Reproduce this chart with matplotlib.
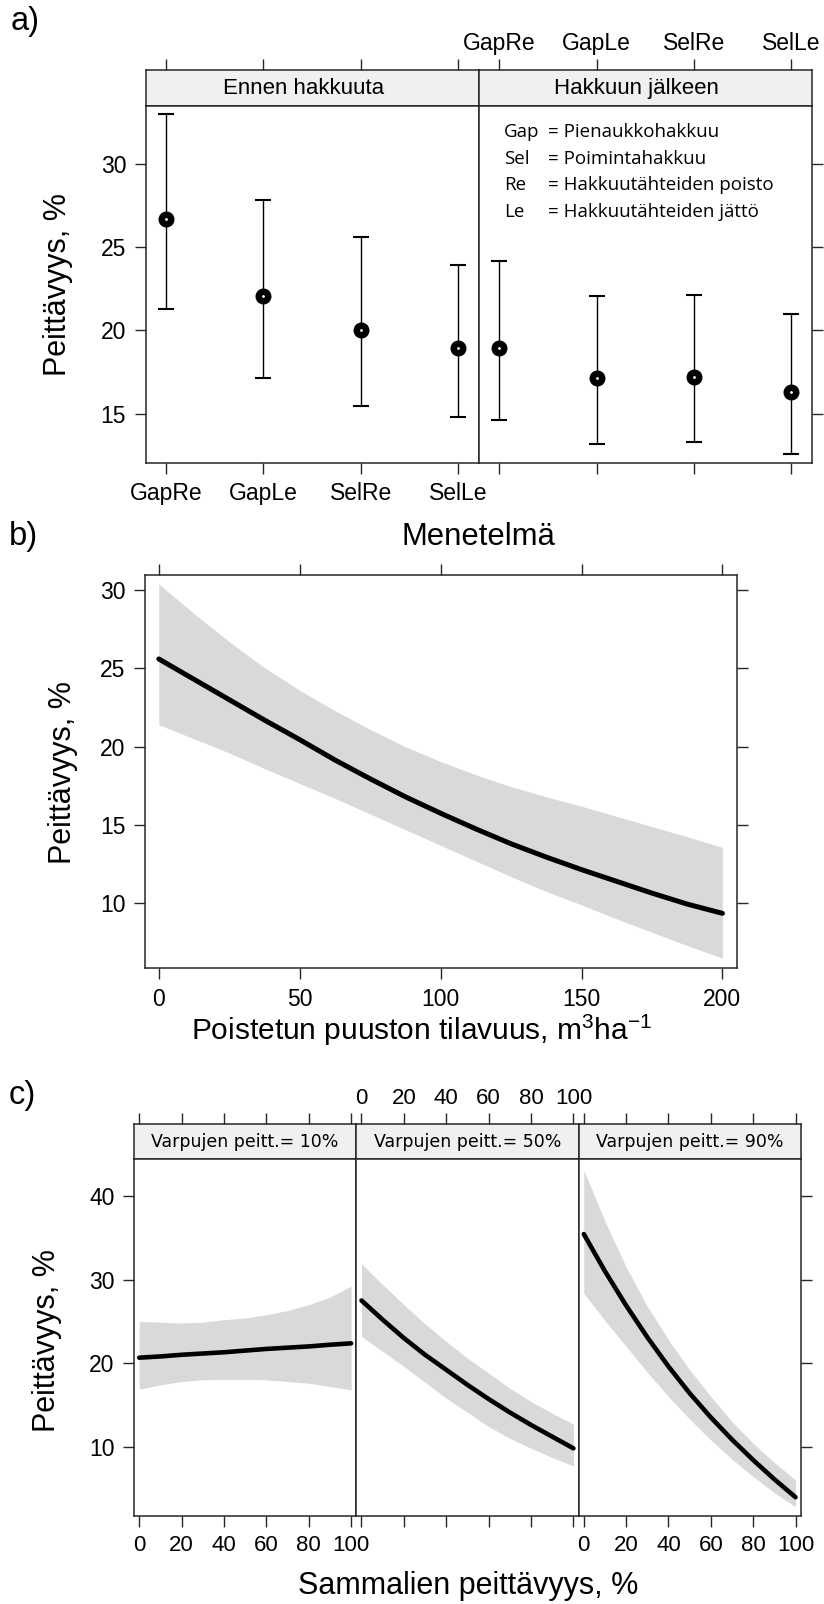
import numpy as np
import matplotlib.pyplot as plt

plt.rcParams['font.family'] = ['Liberation Sans', 'DejaVu Sans']
plt.rcParams['mathtext.fontset'] = 'custom'
plt.rcParams['mathtext.rm'] = 'Liberation Sans'
plt.rcParams['mathtext.it'] = 'Liberation Sans'

# a) keskiarvot ja luottamusvälit
methods = ["GapRe", "GapLe", "SelRe", "SelLe"]
before_mean = [26.7, 22.05, 20.05, 18.93]
before_lo = [21.3, 17.17, 15.48, 14.81]
before_hi = [33.0, 27.87, 25.63, 23.94]
after_mean = [18.93, 17.13, 17.23, 16.33]
after_lo = [14.64, 13.2, 13.28, 12.6]
after_hi = [24.17, 22.06, 22.14, 21.0]
a_strips = ["Ennen hakkuuta", "Hakkuun jälkeen"]
legend_abbr = ["Gap", "Sel", "Re", "Le"]
legend_text = ["Pienaukkohakkuu", "Poimintahakkuu",
               "Hakkuutähteiden poisto", "Hakkuutähteiden jättö"]

# b) poistetun puuston tilavuus
b_x = [0, 12.5, 25, 37.5, 50, 62.5, 75, 87.5, 100, 112.5, 125, 137.5,
       150, 162.5, 175, 187.5, 200]
b_fit = [25.6, 24.3, 23.0, 21.7, 20.45, 19.15, 17.95, 16.8, 15.75, 14.75,
         13.8, 12.95, 12.15, 11.4, 10.65, 9.95, 9.36]
b_upper = [30.38, 28.5, 26.7, 25.05, 23.6, 22.3, 21.1, 20.0, 19.05, 18.2,
           17.45, 16.8, 16.2, 15.55, 14.9, 14.25, 13.57]
b_lower = [21.4, 20.5, 19.6, 18.6, 17.65, 16.7, 15.7, 14.7, 13.7, 12.7,
           11.7, 10.75, 9.9, 9.0, 8.15, 7.3, 6.5]

# c) sammalien peittävyys, kolme varpujen tasoa
c_x = [0, 10, 20, 30, 40, 50, 60, 70, 80, 90, 100]
c_strips = ["Varpujen peitt.= 10%", "Varpujen peitt.= 50%", "Varpujen peitt.= 90%"]
c_fit = [
    [20.65, 20.8, 21.0, 21.15, 21.3, 21.5, 21.7, 21.85, 22.0, 22.2, 22.37],
    [27.5, 25.2, 23.0, 21.0, 19.2, 17.4, 15.7, 14.1, 12.6, 11.2, 9.8],
    [35.45, 31.0, 26.9, 23.1, 19.6, 16.4, 13.5, 10.85, 8.4, 6.1, 3.95],
]
c_upper = [
    [25.0, 24.9, 24.8, 24.9, 25.2, 25.4, 25.8, 26.3, 27.0, 27.9, 29.2],
    [31.9, 29.4, 27.0, 24.7, 22.6, 20.6, 18.8, 17.0, 15.4, 14.0, 12.7],
    [43.1, 37.0, 31.5, 26.8, 22.8, 19.2, 16.0, 13.0, 10.4, 8.1, 6.0],
]
c_lower = [
    [16.9, 17.4, 17.8, 18.0, 18.05, 18.05, 18.0, 17.8, 17.6, 17.2, 16.8],
    [23.2, 21.4, 19.6, 17.7, 15.8, 14.1, 12.4, 11.0, 9.8, 8.7, 7.7],
    [28.35, 25.1, 22.0, 18.9, 16.0, 13.3, 10.8, 8.5, 6.4, 4.5, 2.8],
]
c_ticks = [0, 20, 40, 60, 80, 100]

W, H = 824, 1604
EDGE = '#262626'
BAND = '#d9d9d9'
STRIP = '#f0f0f0'

fig = plt.figure(figsize=(W / 100, H / 100), dpi=100)


def fx(x):
    return x / W


def fy(y):
    return 1 - y / H


def box(x0, y0, x1, y1):
    return fig.add_axes([x0 / W, 1 - y1 / H, (x1 - x0) / W, (y1 - y0) / H])


def style(ax, size=16.5):
    for s in ax.spines.values():
        s.set_color(EDGE)
        s.set_linewidth(1.1)
    ax.tick_params(direction='out', length=8, width=1.0, color=EDGE,
                   labelsize=size, pad=6, labelcolor='black')


def strip(x0, x1, y0, y1, label, xlim, ticks, labels, fsize, family, dx=0):
    s = box(x0, y0, x1, y1)
    style(s)
    s.set_facecolor(STRIP)
    s.set_xlim(xlim)
    s.set_yticks([])
    s.xaxis.set_ticks_position('top')
    s.set_xticks(ticks)
    s.tick_params(pad=3)
    if labels:
        s.set_xticklabels(labels)
    else:
        s.tick_params(labeltop=False)
    s.text(0.5 + dx / (x1 - x0), 0.48, label, transform=s.transAxes,
           ha='center', va='center', fontsize=fsize, family=family)
    return s


# ---------------- a) ----------------
a_x = np.arange(1, 5)
a_cols = [(145.6, 478.7), (478.7, 811.9)]
a_data = [(before_mean, before_lo, before_hi), (after_mean, after_lo, after_hi)]
for i, ((x0, x1), (m, lo, hi)) in enumerate(zip(a_cols, a_data)):
    m, lo, hi = np.array(m), np.array(lo), np.array(hi)
    strip(x0, x1, 70, 106, a_strips[i], (0.79, 4.21), a_x,
          methods if i == 1 else None, 16, ['Liberation Sans'], dx=-9)
    ax = box(x0, 106, x1, 462.7)
    style(ax)
    ax.errorbar(a_x, m, yerr=[m - lo, hi - m], fmt='none', ecolor='black',
                elinewidth=1.0, capsize=6, capthick=1.5)
    ax.plot(a_x, m, 'o', ms=10.5, color='black')
    ax.plot(a_x, m, 'o', ms=1.0, color='white')
    ax.set_xlim(0.79, 4.21)
    ax.set_ylim(12.05, 33.5)
    ax.set_xticks(a_x)
    ax.set_yticks([15, 20, 25, 30])
    if i == 0:
        ax.set_xticklabels(methods)
        ax.tick_params(axis='y', left=True, right=False, labelleft=True)
    else:
        ax.tick_params(labelbottom=False)
        ax.tick_params(axis='y', left=False, right=True, labelleft=False)

for k, (ab, txt) in enumerate(zip(legend_abbr, legend_text)):
    yy = 131.7 + k * 26.8
    fig.text(fx(504), fy(yy), ab, ha='left', va='center', fontsize=13.5,
             family=['Open Sans', 'DejaVu Sans'])
    fig.text(fx(548), fy(yy), "= " + txt, ha='left', va='center', fontsize=13.5,
             family=['Open Sans', 'DejaVu Sans'])

fig.text(fx(25.5), fy(21.5), "a)", ha='center', va='center', fontsize=23.5)
fig.text(fx(58), fy(285), "Peittävyys, %", rotation=90, ha='center',
         va='center', fontsize=22)

# ---------------- b) ----------------
ax = box(144.7, 574.7, 736.5, 968.3)
style(ax)
ax.fill_between(b_x, b_lower, b_upper, color=BAND, linewidth=0)
ax.plot(b_x, b_fit, color='black', lw=3.6, solid_capstyle='round')
ax.set_xlim(-5, 205)
ax.set_ylim(5.85, 30.98)
ax.set_xticks([0, 50, 100, 150, 200])
ax.set_yticks([10, 15, 20, 25, 30])
ax.tick_params(top=True, right=True, labeltop=False, labelright=False)

fig.text(fx(23.7), fy(536.5), "b)", ha='center', va='center', fontsize=23.5)
fig.text(fx(478), fy(545), "Menetelmä", ha='center', va='baseline',
         fontsize=22.3)
fig.text(fx(63), fy(772), "Peittävyys, %", rotation=90, ha='center',
         va='center', fontsize=22)
fig.text(fx(422), fy(1030), r"Poistetun puuston tilavuus, m$^3$ha$^{-1}$",
         ha='center', va='center', fontsize=21.5)

# ---------------- c) ----------------
c_cols = [(134, 356.3), (356.3, 578.6), (578.6, 800.7)]
c_xlim = (-2.45, 102.45)
for i, (x0, x1) in enumerate(c_cols):
    s = strip(x0, x1, 1124, 1159.3, c_strips[i], c_xlim, c_ticks,
              [str(t) for t in c_ticks] if i == 1 else None, 12.5,
              ['DejaVu Sans'])
    s.tick_params(labelsize=16)
    ax = box(x0, 1159.3, x1, 1516)
    style(ax, 16)
    ax.fill_between(c_x, c_lower[i], c_upper[i], color=BAND, linewidth=0)
    ax.plot(c_x, c_fit[i], color='black', lw=3.3, solid_capstyle='round')
    ax.set_xlim(c_xlim)
    ax.set_ylim(1.7, 44.4)
    ax.set_xticks(c_ticks)
    ax.set_yticks([10, 20, 30, 40])
    ax.tick_params(axis='y', labelsize=16.5)
    if i == 1:
        ax.tick_params(labelbottom=False)
    if i == 0:
        ax.tick_params(axis='y', left=True, right=False, labelleft=True)
    elif i == 2:
        ax.tick_params(axis='y', left=False, right=True, labelleft=False)
    else:
        ax.tick_params(axis='y', left=False, right=False, labelleft=False)

fig.text(fx(22), fy(1095.7), "c)", ha='center', va='center', fontsize=23.5)
fig.text(fx(47), fy(1340), "Peittävyys, %", rotation=90, ha='center',
         va='center', fontsize=22)
fig.text(fx(468), fy(1594), "Sammalien peittävyys, %", ha='center',
         va='baseline', fontsize=22)

fig.savefig("out.png", dpi=100)
